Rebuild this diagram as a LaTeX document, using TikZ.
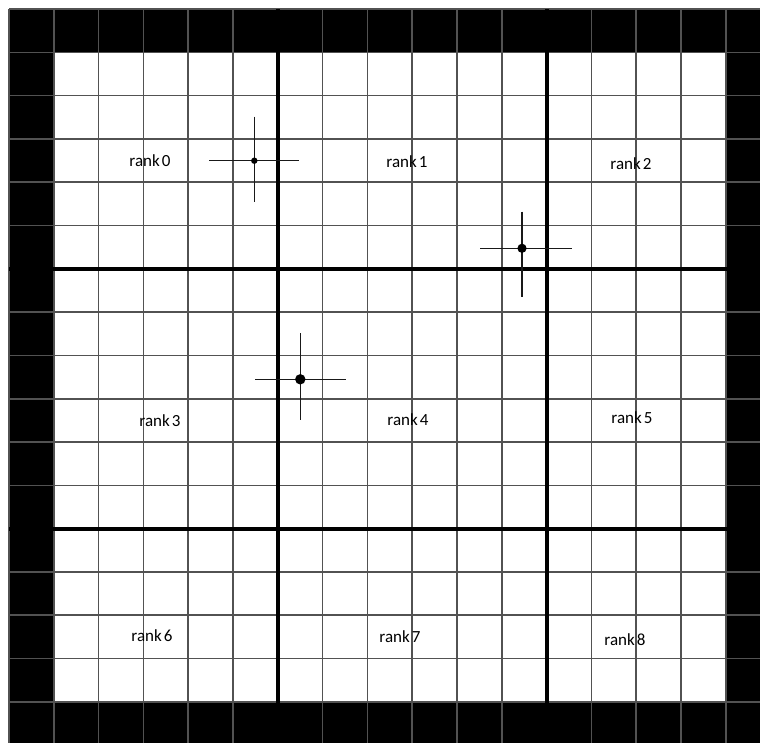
\documentclass[tikz,border=0pt]{standalone}
\usepackage{fontspec}
\setmainfont{Carlito}
\begin{document}
\begin{tikzpicture}[x=1pt,y=-1pt,
  gridline/.style={draw={rgb,1:red,0.32;green,0.32;blue,0.32},line width=1.6pt},
  thickline/.style={draw=black,line width=3.8pt},
  borderfill/.style={fill=black},
  crossline/.style={draw={rgb,1:red,0.1;green,0.1;blue,0.1},line width=1.5pt},
  ranklabel/.style={font=\fontsize{17}{19}\selectfont,inner sep=0pt,text=black}
]
\def\cw{44.8}
\def\ch{43.3}
\def\ox{9}
\def\oy{9}
\useasboundingbox[fill=white] (0,0) rectangle (760,742);
\begin{scope}
\clip (0,0) rectangle (760,742);
% black border cells
\fill[borderfill] (\ox,\oy) rectangle ({\ox+17*\cw},{\oy+\ch});
\fill[borderfill] (\ox,{\oy+16*\ch}) rectangle ({\ox+17*\cw},{\oy+17*\ch});
\fill[borderfill] (\ox,\oy) rectangle ({\ox+\cw},{\oy+17*\ch});
\fill[borderfill] ({\ox+16*\cw},\oy) rectangle ({\ox+17*\cw},{\oy+17*\ch});
% grid lines
\foreach \i in {0,...,17} {
  \draw[gridline] ({\ox+\i*\cw},\oy) -- ({\ox+\i*\cw},{\oy+17*\ch});
  \draw[gridline] (\ox,{\oy+\i*\ch}) -- ({\ox+17*\cw},{\oy+\i*\ch});
}
% thick partition lines
\foreach \i in {6,12} {
  \draw[thickline] ({\ox+\i*\cw},\oy) -- ({\ox+\i*\cw},{\oy+17*\ch});
  \draw[thickline] (\ox,{\oy+\i*\ch}) -- ({\ox+17*\cw},{\oy+\i*\ch});
}
\end{scope}
% labels
\node[ranklabel] (r0) at (150,161) {rank\hspace{0.12em}0};
\node[ranklabel] (r1) at (407,162) {rank\hspace{0.12em}1};
\node[ranklabel] (r2) at (631,164) {rank\hspace{0.12em}2};
\node[ranklabel] (r3) at (160,421) {rank\hspace{0.12em}3};
\node[ranklabel] (r4) at (408,420) {rank\hspace{0.12em}4};
\node[ranklabel] (r5) at (632,418) {rank\hspace{0.12em}5};
\node[ranklabel] (r6) at (152,636) {rank\hspace{0.12em}6};
\node[ranklabel] (r7) at (400,637) {rank\hspace{0.12em}7};
\node[ranklabel] (r8) at (625,640) {rank\hspace{0.12em}8};
% crosses
\coordinate (c1) at (254.3,160.7);
\draw[crossline] (209,160.7) -- (299,160.7);
\draw[crossline] (254.3,116.7) -- (254.3,202);
\fill (c1) circle (3.2);
\coordinate (c2) at (522,248.3);
\draw[crossline] (480,248.3) -- (571.7,248.3);
\draw[crossline] (522,211.7) -- (522,297.3);
\fill (c2) circle (4.6);
\coordinate (c3) at (300.3,379.3);
\draw[crossline] (255,379.3) -- (346,379.3);
\draw[crossline] (300.3,333.3) -- (300.3,420);
\fill (c3) circle (5.2);
\end{tikzpicture}
\end{document}
